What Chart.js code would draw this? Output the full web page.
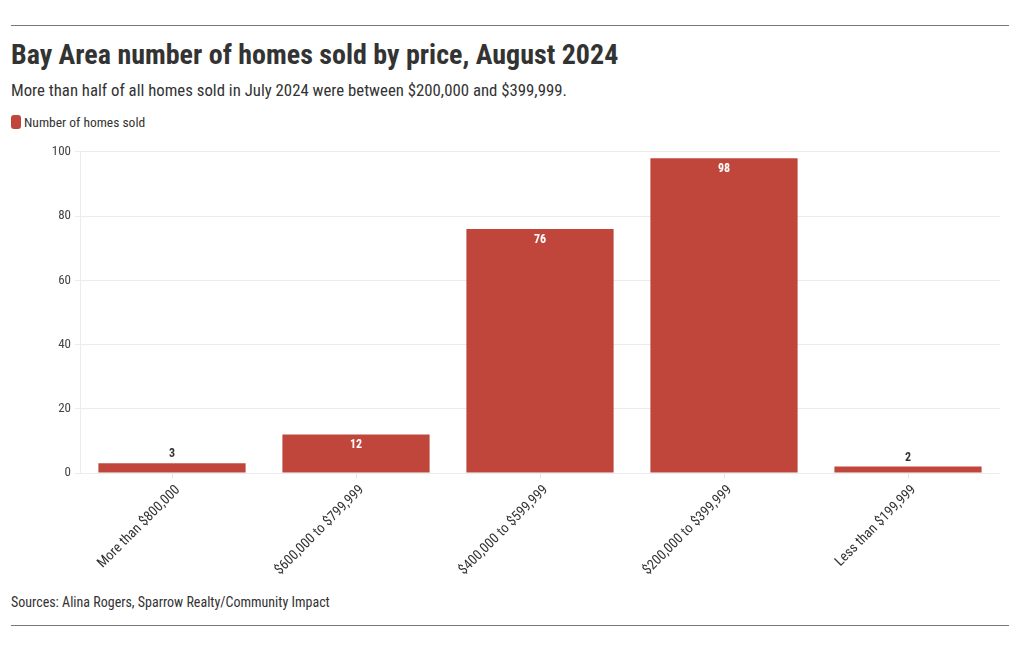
<!DOCTYPE html>
<html>
<head>
<meta charset="utf-8">
<script src="https://cdn.jsdelivr.net/npm/chart.js@4"></script>
<style>
  html, body { margin:0; padding:0; background:#fff; }
  body { width:1020px; height:650px; position:relative; overflow:hidden;
         font-family: "Roboto Condensed", "Liberation Sans Narrow", "DejaVu Sans Condensed", Roboto, sans-serif; color:#333; }
  .rule { position:absolute; left:11px; width:998px; height:0; border-top:1px solid #777; }
  #title { position:absolute; left:11px; top:38px; font-size:28px; font-weight:bold; color:#333; white-space:nowrap; }
  #sub { position:absolute; left:11px; top:80px; font-size:16.8px; color:#333; white-space:nowrap; }
  #legend { position:absolute; left:11px; top:114px; font-size:13.5px; color:#333; white-space:nowrap; display:flex; align-items:center; }
  #legend .sw { width:10px; height:14px; border-radius:3px; background:#c0463c; margin-right:3px; }
  #src { position:absolute; left:11px; top:594px; font-size:14px; color:#333; white-space:nowrap; }
  #wrap { position:absolute; left:11px; top:140px; width:998px; height:440px; }
</style>
</head>
<body>
<div class="rule" style="top:25px"></div>
<div id="title">Bay Area number of homes sold by price, August 2024</div>
<div id="sub">More than half of all homes sold in July 2024 were between $200,000 and $399,999.</div>
<div id="legend"><span class="sw"></span><span>Number of homes sold</span></div>
<div id="wrap"><canvas id="c"></canvas></div>
<div id="src">Sources: Alina Rogers, Sparrow Realty/Community Impact</div>
<div class="rule" style="top:625px"></div>
<script>
const categories = ["More than $800,000", "$600,000 to $799,999", "$400,000 to $599,999", "$200,000 to $399,999", "Less than $199,999"];
const homesSold = [3, 12, 76, 98, 2];
const seriesName = "Number of homes sold";
const yTicks = [0, 20, 40, 60, 80, 100];

const FONT = '"Roboto Condensed", "Liberation Sans Narrow", "DejaVu Sans Condensed", Roboto, sans-serif';

const valueLabels = {
  id: 'valueLabels',
  afterDatasetsDraw(chart) {
    const ctx = chart.ctx;
    const meta = chart.getDatasetMeta(0);
    ctx.save();
    ctx.font = 'bold 12px ' + FONT;
    ctx.textAlign = 'center';
    ctx.textBaseline = 'middle';
    meta.data.forEach((bar, i) => {
      const h = bar.base - bar.y;
      const txt = String(homesSold[i]);
      if (h > 20) {
        ctx.fillStyle = '#ffffff';
        ctx.fillText(txt, bar.x, bar.y + 11);
      } else {
        ctx.fillStyle = '#333333';
        ctx.fillText(txt, bar.x, bar.y - 9);
      }
    });
    ctx.restore();
  }
};

new Chart(document.getElementById('c'), {
  type: 'bar',
  data: {
    labels: categories,
    datasets: [{
      label: seriesName,
      data: homesSold,
      backgroundColor: '#c0463c',
      borderWidth: 0,
      categoryPercentage: 0.8,
      barPercentage: 1.0
    }]
  },
  options: {
    responsive: true,
    maintainAspectRatio: false,
    animation: false,
    layout: { padding: { top: 11, right: 9, left: 0, bottom: 0 } },
    plugins: { legend: { display: false }, tooltip: { enabled: false } },
    scales: {
      x: {
        grid: { display: true, offset: false, drawOnChartArea: false, drawTicks: true, tickLength: 6, color: '#e6e6e6' },
        border: { display: false },
        ticks: {
          minRotation: 45, maxRotation: 45, autoSkip: false, padding: 3, labelOffset: 6,
          color: '#333', font: { family: FONT, size: 14 }
        },
        afterFit(scale) { scale.height = 107; }
      },
      y: {
        min: 0, max: 100,
        afterBuildTicks(scale) { scale.ticks = yTicks.map(v => ({ value: v })); },
        grid: { color: '#ececec', lineWidth: 1, tickLength: 5, drawTicks: true },
        border: { display: true, color: '#ececec' },
        ticks: { padding: 4, color: '#444', font: { family: FONT, size: 13 } },
        afterFit(scale) { scale.width = 69; }
      }
    }
  },
  plugins: [valueLabels]
});
</script>
</body>
</html>
